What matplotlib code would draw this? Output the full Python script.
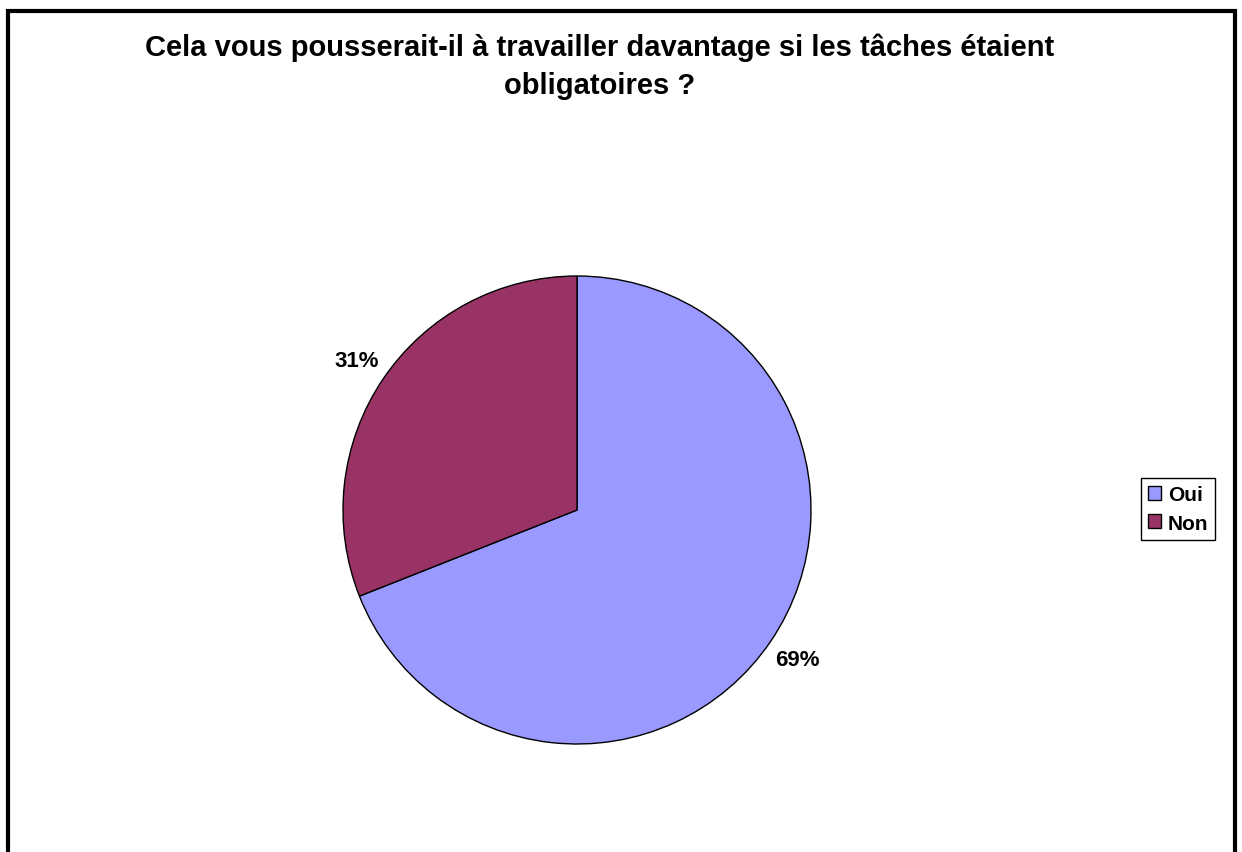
import matplotlib.pyplot as plt
from matplotlib.patches import Rectangle

# Data
labels = ['Oui', 'Non']
values = [69, 31]
colors = ['#9999FF', '#993366']
title = "Cela vous pousserait-il à travailler davantage si les tâches étaient\nobligatoires ?"

plt.rcParams['font.family'] = ['Liberation Sans', 'DejaVu Sans']

W, H = 1242, 853
fig = plt.figure(figsize=(W / 100, H / 100), dpi=100)

# outer frame (bottom edge cut off in the original)
fig.patches.append(Rectangle((8 / W, -0.05), (1235 - 8) / W, (H - 12) / H + 0.05,
                             transform=fig.transFigure, fill=False,
                             edgecolor='black', linewidth=3))

# pie axes: centre (577, 511), radius 234 px
cx, cy, r = 577, 511, 234
ax = fig.add_axes([(cx - r) / W, (H - cy - r) / H, 2 * r / W, 2 * r / H])
wedges, texts, autotexts = ax.pie(values, colors=colors, startangle=90, counterclock=False,
                                  autopct='%1.0f%%', pctdistance=1.14,
                                  wedgeprops=dict(edgecolor='black', linewidth=1))
for t in autotexts:
    t.set_fontsize(16)
    t.set_fontweight('bold')
ax.set_xlim(-1, 1)
ax.set_ylim(-1, 1)
ax.set_aspect('equal')
ax.axis('off')

fig.text(600 / W, 1 - 67 / H, title, ha='center', va='center',
         fontsize=21, fontweight='bold', linespacing=1.45)

leg = fig.legend(wedges, labels, loc='center', bbox_to_anchor=(1178 / W, 1 - 510 / H),
                 frameon=True, fancybox=False, edgecolor='black', framealpha=1,
                 prop={'weight': 'bold', 'size': 15}, handlelength=0.65, handleheight=0.65,
                 handletextpad=0.3, borderpad=0.35, labelspacing=0.45, borderaxespad=0)
leg.get_frame().set_linewidth(1)

fig.savefig('out.png', dpi=100)
